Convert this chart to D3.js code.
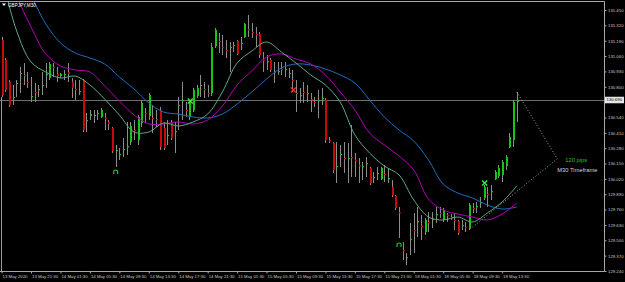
<!DOCTYPE html>
<html>
<head>
<meta charset="utf-8">
<script src="https://cdn.jsdelivr.net/npm/d3@7"></script>
<style>
  html, body { margin: 0; padding: 0; background: #000; }
  svg { display: block; }
  text { font-family: "Liberation Sans", Arial, sans-serif; }
</style>
</head>
<body>
<div id="chart"></div>
<script>
// ----------------------------
// GBPJPY M30 bars, index 0 = 13 May 17:30
// ----------------------------
var highs = [
  131.222, 131.044, 130.857, 130.815, 130.857, 130.968, 131.001, 130.925, 130.883, 130.832,
  130.815, 130.925, 131.001, 131.010, 131.001, 130.968, 130.917, 130.942, 131.001, 130.874,
  130.857, 130.857, 130.866, 130.578, 130.603, 130.603, 130.603, 130.620, 130.578, 130.519,
  130.459, 130.307, 130.281, 130.366, 130.502, 130.502, 130.519, 130.561, 130.688, 130.620,
  130.747, 130.646, 130.603, 130.629, 130.502, 130.519, 130.519, 130.502, 130.713, 130.840,
  130.671, 130.688, 130.790, 130.815, 130.900, 130.840, 130.815, 131.171, 131.298, 131.255,
  131.239, 131.196, 131.179, 131.179, 131.196, 131.222, 131.340, 131.408, 131.340, 131.306,
  131.264, 131.095, 131.069, 131.044, 131.010, 131.010, 131.010, 131.010, 130.959, 130.942,
  130.857, 130.790, 130.840, 130.815, 130.747, 130.713, 130.773, 130.790, 130.705, 130.375,
  130.332, 130.332, 130.307, 130.332, 130.324, 130.476, 130.239, 130.197, 130.163, 130.205,
  130.121, 130.078, 130.121, 130.121, 130.137, 130.112, 130.010, 129.883, 129.782, 129.485,
  129.392, 129.646, 129.731, 129.782, 129.714, 129.689, 129.739, 129.739, 129.782, 129.782,
  129.773, 129.731, 129.722, 129.731, 129.672, 129.672, 129.655, 129.816, 129.816, 129.824,
  129.866, 129.968, 129.951, 129.968, 130.095, 130.137, 130.180, 130.222, 130.408, 130.688,
  130.756
];
var lows = [
  130.713, 130.756, 130.629, 130.646, 130.713, 130.747, 130.815, 130.790, 130.671, 130.671,
  130.713, 130.730, 130.790, 130.857, 130.883, 130.840, 130.874, 130.857, 130.840, 130.705,
  130.688, 130.730, 130.417, 130.417, 130.519, 130.493, 130.519, 130.536, 130.434, 130.434,
  130.239, 130.121, 130.180, 130.205, 130.222, 130.307, 130.349, 130.307, 130.459, 130.493,
  130.519, 130.408, 130.459, 130.264, 130.264, 130.307, 130.349, 130.239, 130.434, 130.519,
  130.544, 130.519, 130.586, 130.705, 130.713, 130.705, 130.713, 130.722, 131.128, 131.086,
  131.069, 131.044, 130.925, 131.095, 131.069, 131.111, 131.213, 131.222, 131.213, 131.137,
  131.044, 130.925, 130.942, 130.925, 130.832, 130.900, 130.900, 130.883, 130.874, 130.756,
  130.586, 130.663, 130.663, 130.671, 130.586, 130.629, 130.536, 130.646, 130.324, 130.324,
  130.070, 129.985, 130.121, 130.070, 129.985, 130.036, 130.036, 129.985, 130.010, 130.036,
  129.968, 129.985, 130.010, 130.010, 129.993, 129.985, 129.866, 129.756, 129.519, 129.333,
  129.290, 129.375, 129.392, 129.528, 129.502, 129.545, 129.570, 129.604, 129.646, 129.689,
  129.655, 129.655, 129.672, 129.587, 129.545, 129.587, 129.570, 129.587, 129.731, 129.731,
  129.773, 129.841, 129.782, 129.841, 130.010, 130.027, 129.993, 130.095, 130.281, 130.290,
  130.502
];
var opens = [
  131.196, 131.027, 130.840, 130.705, 130.824, 130.908, 130.900, 130.840, 130.713, 130.756,
  130.773, 130.807, 130.900, 130.874, 130.968, 130.908, 130.891, 130.900, 130.925, 130.840,
  130.781, 130.756, 130.857, 130.510, 130.552, 130.552, 130.569, 130.544, 130.536, 130.502,
  130.451, 130.256, 130.222, 130.264, 130.290, 130.332, 130.434, 130.349, 130.493, 130.578,
  130.552, 130.536, 130.527, 130.603, 130.451, 130.383, 130.502, 130.417, 130.637, 130.680,
  130.603, 130.544, 130.603, 130.722, 130.807, 130.781, 130.747, 130.747, 131.145, 131.188,
  131.137, 131.111, 131.128, 131.145, 131.188, 131.162, 131.222, 131.289, 131.264, 131.247,
  131.247, 131.027, 131.010, 131.027, 130.925, 130.925, 130.951, 130.942, 130.908, 130.857,
  130.747, 130.722, 130.756, 130.739, 130.696, 130.671, 130.680, 130.696, 130.688, 130.349,
  130.324, 130.121, 130.222, 130.197, 130.188, 130.205, 130.180, 130.137, 130.121, 130.146,
  130.112, 130.027, 130.061, 130.019, 130.061, 130.019, 129.951, 129.875, 129.739, 129.417,
  129.350, 129.502, 129.587, 129.655, 129.621, 129.570, 129.655, 129.672, 129.714, 129.731,
  129.672, 129.714, 129.697, 129.672, 129.663, 129.621, 129.612, 129.604, 129.773, 129.782,
  129.816, 129.858, 129.892, 129.909, 130.019, 130.044, 130.053, 130.129, 130.290, 130.349,
  130.671
];
var closes = [
  130.730, 130.773, 130.646, 130.713, 130.832, 130.917, 130.891, 130.832, 130.722, 130.747,
  130.781, 130.815, 130.908, 130.993, 130.959, 130.891, 130.908, 130.908, 130.908, 130.790,
  130.773, 130.764, 130.434, 130.519, 130.569, 130.561, 130.578, 130.603, 130.527, 130.485,
  130.256, 130.264, 130.231, 130.273, 130.298, 130.468, 130.425, 130.544, 130.663, 130.569,
  130.730, 130.527, 130.519, 130.290, 130.281, 130.392, 130.366, 130.425, 130.646, 130.688,
  130.595, 130.671, 130.773, 130.790, 130.815, 130.773, 130.739, 131.137, 131.281, 131.179,
  131.128, 131.103, 131.137, 131.154, 131.078, 131.171, 131.332, 131.281, 131.255, 131.239,
  131.069, 131.018, 131.018, 130.942, 130.917, 130.934, 130.942, 130.951, 130.917, 130.849,
  130.739, 130.730, 130.747, 130.747, 130.688, 130.663, 130.688, 130.705, 130.349, 130.341,
  130.095, 130.129, 130.231, 130.188, 130.197, 130.197, 130.171, 130.129, 130.129, 130.154,
  129.985, 130.036, 130.070, 130.112, 130.053, 130.027, 129.883, 129.773, 129.731, 129.409,
  129.358, 129.511, 129.578, 129.663, 129.612, 129.672, 129.646, 129.680, 129.722, 129.722,
  129.756, 129.705, 129.689, 129.663, 129.561, 129.629, 129.604, 129.799, 129.765, 129.790,
  129.824, 129.951, 129.883, 129.917, 130.078, 130.112, 130.163, 130.205, 130.375, 130.671,
  130.690
];

// moving averages, read every 4 bars
var maIdx  = [0, 4, 8, 12, 16, 20, 24, 28, 32, 36, 40, 44, 48, 52, 56, 60, 64, 68,
              72, 76, 80, 84, 88, 92, 96, 100, 104, 108, 112, 116, 120, 124, 128, 132, 136, 140];
var maFast = [131.747, 131.281, 131.010, 130.925, 130.874, 130.891, 130.815, 130.696, 130.561,
              130.417, 130.417, 130.493, 130.468, 130.502, 130.569, 130.756, 131.001, 131.103,
              131.179, 131.095, 131.001, 130.900, 130.815, 130.671, 130.392, 130.239, 130.129,
              130.053, 129.841, 129.697, 129.672, 129.697, 129.655, 129.731, 129.824, 129.960];
var maMid  = [131.916, 131.577, 131.306, 131.078, 130.976, 130.942, 130.925, 130.807, 130.680,
              130.561, 130.485, 130.485, 130.502, 130.485, 130.519, 130.637, 130.815, 130.934,
              131.052, 131.078, 131.035, 130.993, 130.900, 130.756, 130.603, 130.408, 130.307,
              130.214, 130.095, 129.849, 129.756, 129.722, 129.697, 129.672, 129.722, 129.816];
var maSlow = [132.001, 131.772, 131.569, 131.332, 131.171, 131.086, 131.044, 130.993, 130.883,
              130.781, 130.663, 130.586, 130.569, 130.544, 130.536, 130.569, 130.654, 130.756,
              130.866, 130.959, 130.993, 130.984, 130.951, 130.900, 130.832, 130.688, 130.544,
              130.434, 130.341, 130.180, 129.976, 129.900, 129.858, 129.799, 129.765, 129.782];

// signal marks
var crossGreenIdx = [51, 131];
var crossGreenPrice = [130.680, 129.985];
var crossRedIdx = [79];
var crossRedPrice = [130.773];
var arcIdx = [31, 108];
var arcPrice = [130.078, 129.460];

// dotted measuring triangle: top, apex, bottom
var triIdx = [140, 151, 127];
var triPrice = [130.756, 130.190, 129.587];

var lastPrice = 130.690;
var symbolLabel = "GBPJPY,M30";
var pipsLabel = "120 pips";
var tfLabel = "M30 Timeframe";

// 130.670 sits under the current price tag, so its label is not shown
var priceTicks = [131.450, 131.320, 131.190, 131.060, 130.930, 130.800, 130.670, 130.540, 130.410,
                  130.280, 130.150, 130.020, 129.890, 129.760, 129.630, 129.500, 129.370, 129.240];
var timeTickIdx = [0, 8, 16, 24, 32, 40, 48, 56, 64, 72, 80, 88, 96, 104, 112, 120, 128, 136];
var timeTickLabels = ["13 May 2020", "13 May 21:30", "14 May 01:30", "14 May 05:30", "14 May 09:30",
                      "14 May 13:30", "14 May 17:30", "14 May 21:30", "15 May 01:30", "15 May 05:30",
                      "15 May 09:30", "15 May 13:30", "15 May 17:30", "15 May 21:30", "18 May 01:30",
                      "18 May 05:30", "18 May 09:30", "18 May 13:30"];

// ----------------------------
// Setup
// ----------------------------
var W = 625, H = 282;
var plotRight = 604, plotTop = 2, plotBottom = 271;

var bars = highs.map(function (h, i) {
  return { i: i, h: h, l: lows[i], o: opens[i], c: closes[i] };
});

var x = d3.scaleLinear().domain([0, 140]).range([1.6, 516.8]);
var y = d3.scaleLinear().domain([129.240, 131.450]).range([271, 10]);

var svg = d3.select("#chart").append("svg")
  .attr("width", W)
  .attr("height", H)
  .style("background", "#000");

svg.append("clipPath").attr("id", "plotclip")
  .append("rect")
  .attr("x", 0).attr("y", plotTop)
  .attr("width", plotRight).attr("height", plotBottom - plotTop);

var plot = svg.append("g").attr("clip-path", "url(#plotclip)");

// current price line
plot.append("line")
  .attr("x1", 0).attr("x2", plotRight)
  .attr("y1", Math.round(y(lastPrice)) + 0.5).attr("y2", Math.round(y(lastPrice)) + 0.5)
  .attr("stroke", "#6e6e6e").attr("stroke-width", 1);

// left edge line under first bar
plot.append("line")
  .attr("x1", 1.5).attr("x2", 1.5)
  .attr("y1", y(lows[0])).attr("y2", plotBottom)
  .attr("stroke", "#9a9a9a").attr("stroke-width", 1);

// ----------------------------
// Bars: gray wick, coloured body
// ----------------------------
var px = function (i) { return Math.round(x(i)); };

plot.append("g").selectAll("line")
  .data(bars).enter().append("line")
  .attr("x1", d => px(d.i) + 0.5).attr("x2", d => px(d.i) + 0.5)
  .attr("y1", d => y(d.h)).attr("y2", d => y(d.l))
  .attr("stroke", "#8c8c8c").attr("stroke-width", 1);

plot.append("g").selectAll("rect")
  .data(bars).enter().append("rect")
  .attr("x", d => px(d.i))
  .attr("y", d => Math.min(y(d.o), y(d.c)))
  .attr("width", 2)
  .attr("height", d => Math.max(1.2, Math.abs(y(d.o) - y(d.c))))
  .attr("fill", d => d.c >= d.o ? "#12c812" : "#c80a0a");

// ----------------------------
// Moving averages
// ----------------------------
var maLine = d3.line()
  .x(d => x(d[0])).y(d => y(d[1]))
  .curve(d3.curveCatmullRom.alpha(0.5));

[[maSlow, "#1f6ec0"], [maMid, "#b400b4"], [maFast, "#5ea88a"]].forEach(function (s) {
  plot.append("path")
    .datum(maIdx.map((i, k) => [i, s[0][k]]))
    .attr("d", maLine)
    .attr("fill", "none")
    .attr("stroke", s[1])
    .attr("stroke-width", 1);
});

// ----------------------------
// Signal marks
// ----------------------------
function drawCross(idx, prices, color) {
  idx.forEach(function (i, k) {
    var cx = x(i) + 1, cy = y(prices[k]);
    plot.append("path")
      .attr("d", `M${cx - 2.5},${cy - 2.5}L${cx + 2.5},${cy + 2.5}M${cx + 2.5},${cy - 2.5}L${cx - 2.5},${cy + 2.5}`)
      .attr("stroke", color).attr("stroke-width", 1.4).attr("fill", "none");
  });
}
drawCross(crossGreenIdx, crossGreenPrice, "#3cf03c");
drawCross(crossRedIdx, crossRedPrice, "#ff2020");

arcIdx.forEach(function (i, k) {
  var cx = x(i), cy = y(arcPrice[k]);
  plot.append("path")
    .attr("d", `M${cx - 2},${cy + 2}L${cx - 2},${cy - 0.5}Q${cx - 2},${cy - 2} ${cx},${cy - 2}Q${cx + 2},${cy - 2} ${cx + 2},${cy - 0.5}L${cx + 2},${cy + 2}`)
    .attr("stroke", "#20c020").attr("stroke-width", 1.2).attr("fill", "none");
});

// dotted measuring lines
var triPts = triIdx.map((i, k) => [x(i), y(triPrice[k])]);
svg.append("path")
  .attr("d", d3.line()(triPts))
  .attr("fill", "none")
  .attr("stroke", "#a0a0a0").attr("stroke-width", 1)
  .attr("stroke-dasharray", "1,2");

svg.append("text")
  .attr("x", triPts[1][0] + 8).attr("y", triPts[1][1] + 3)
  .attr("fill", "#22c422").attr("font-size", 5.8)
  .text(pipsLabel);
svg.append("text")
  .attr("x", triPts[1][0]).attr("y", triPts[1][1] + 13)
  .attr("fill", "#c8d2e6").attr("font-size", 5.8)
  .text(tfLabel);

// ----------------------------
// Frame and axes
// ----------------------------
svg.append("path")
  .attr("d", `M0,1.5H${plotRight + 0.5}V${plotBottom + 0.5}H0`)
  .attr("fill", "none").attr("stroke", "#a8a8a8").attr("stroke-width", 1);

var fmt = d3.format(".3f");
var yAxis = svg.append("g")
  .attr("transform", `translate(${plotRight + 0.5},0)`)
  .call(d3.axisRight(y).tickValues(priceTicks).tickSize(2).tickPadding(1.5)
    .tickFormat(d => Math.abs(y(d) - y(lastPrice)) < 6 ? "" : fmt(d)));
yAxis.select(".domain").remove();
yAxis.selectAll("line").attr("stroke", "#a8a8a8");
yAxis.selectAll("text").attr("fill", "#c8c8c8").attr("font-size", 4.3)
  .attr("font-family", "Liberation Sans, Arial, sans-serif");

var xAxis = svg.append("g")
  .attr("transform", `translate(0,${plotBottom + 0.5})`)
  .call(d3.axisBottom(x).tickValues(timeTickIdx).tickSize(2).tickPadding(1.5)
    .tickFormat((d, i) => timeTickLabels[i]));
xAxis.select(".domain").remove();
xAxis.selectAll("line").attr("stroke", "#a8a8a8");
xAxis.selectAll("text").attr("fill", "#c8c8c8").attr("font-size", 4.3)
  .attr("text-anchor", "start").attr("dx", 0.5)
  .attr("font-family", "Liberation Sans, Arial, sans-serif");

// current price tag
var tagY = y(lastPrice);
svg.append("rect")
  .attr("x", plotRight + 1).attr("y", tagY - 3)
  .attr("width", 19).attr("height", 6.5)
  .attr("fill", "#e6e6e6");
svg.append("text")
  .attr("x", plotRight + 2.5).attr("y", tagY + 1.6)
  .attr("fill", "#000").attr("font-size", 4.3)
  .text(fmt(lastPrice));

// symbol caption
svg.append("path")
  .attr("d", "M2,3.5L6,3.5L4,6Z")
  .attr("fill", "#fff");
svg.append("text")
  .attr("x", 8).attr("y", 6.8)
  .attr("fill", "#fff").attr("font-size", 4.6)
  .text(symbolLabel);
</script>
</body>
</html>
